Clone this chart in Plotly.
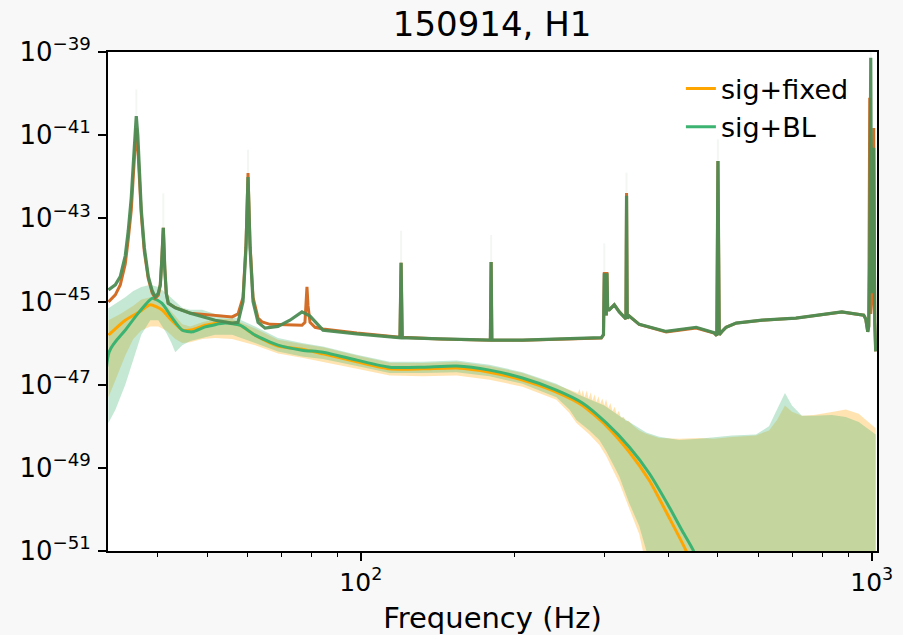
import numpy as np
import plotly.graph_objects as go

# ---------------- data (frequency in Hz, log10 of PSD) ----------------
psd_fixed = [(32.06,-45.01),(33.07,-44.84),(33.82,-44.6),(34.59,-44.1),(35.06,-43.5),(35.54,-42.8),
    (35.86,-42.0),(36.10,-41.3),(36.35,-40.83),(36.60,-41.3),(36.85,-42.0),(37.18,-42.9),(37.69,-43.8),
    (38.37,-44.45),(39.07,-44.8),(39.60,-44.92),(40.14,-44.85),(40.51,-44.6),(40.78,-44.0),(41.06,-43.23),
    (41.33,-44.2),(41.61,-44.8),(41.98,-45.04),(43.33,-45.15),(46.35,-45.28),(51.86,-45.33),(55.98,-45.37),
    (57.5,-45.3),(58.81,-44.9),(59.61,-43.6),(60.15,-41.91),(60.69,-43.6),(61.52,-44.9),(62.93,-45.4),
    (64.07,-45.49),(66.42,-45.55),(72.66,-45.57),(76.70,-45.57),(77.74,-45.5),(78.10,-45.1),(78.45,-44.65),
    (78.82,-45.1),(79.53,-45.5),(81.35,-45.62),(84.33,-45.66),(98.22,-45.76),(113.9,-45.84),(119.3,-45.86),
    (119.9,-44.07),(120.5,-45.86),(142.7,-45.9),(179.3,-45.93),(179.9,-44.05),(180.5,-45.93),(207.2,-45.93),
    (250.0,-45.9),(295.6,-45.88),(298.5,-45.8),(299.6,-44.29),(300.5,-45.3),(302.3,-45.3),(303.2,-44.29),
    (304.2,-45.2),(306.4,-45.2),(313.4,-45.08),(320.5,-45.25),(327.8,-45.37),(330.3,-45.42),(331.2,-42.39),
    (332.2,-45.4),(335.3,-45.35),(350.7,-45.55),(396.0,-45.73),(453.3,-45.64),(491.3,-45.76),(497.5,-45.82),
    (500.0,-41.62),(501.5,-44.1),(503.0,-45.8),(509.3,-45.72),(518.6,-45.62),(542.6,-45.52),(609.9,-45.45),
    (710.6,-45.40),(873.8,-45.25),(964.6,-45.33),(973.4,-45.42),(982.2,-45.73),(986.5,-45.6),(991.0,-40.1),
    (995.5,-45.3),(1000,-45.0),(1009,-40.83),(1013.7,-45.5),(1018,-46.2)]

psd_bl = [(32.06,-44.72),(33.07,-44.6),(33.82,-44.4),(34.59,-43.9),(35.06,-43.3),(35.54,-42.5),
    (35.86,-41.7),(36.10,-41.0),(36.35,-40.54),(36.60,-41.0),(36.85,-41.8),(37.18,-42.8),(37.69,-43.7),
    (38.37,-44.4),(39.07,-44.75),(39.60,-44.89),(40.14,-44.8),(40.51,-44.6),(40.78,-44.0),(41.06,-43.23),
    (41.33,-44.2),(41.61,-44.8),(41.98,-45.04),(43.33,-45.15),(46.35,-45.28),(51.86,-45.45),(55.98,-45.52),
    (57.5,-45.5),(58.81,-45.0),(59.61,-43.7),(60.15,-42.01),(60.69,-43.7),(61.52,-45.0),(62.93,-45.5),
    (64.94,-45.64),(68.84,-45.6),(72.66,-45.45),(76.70,-45.25),(79.53,-45.35),(84.33,-45.69),(98.22,-45.78),
    (113.9,-45.85),(119.3,-45.87),(119.9,-44.07),(120.5,-45.87),(142.7,-45.9),(179.3,-45.93),(179.9,-44.05),
    (180.5,-45.93),(207.2,-45.93),(250.0,-45.9),(295.6,-45.87),(298.5,-45.8),(299.6,-44.32),(300.5,-45.3),
    (302.3,-45.3),(303.2,-44.32),(304.2,-45.2),(306.4,-45.2),(313.4,-45.08),(320.5,-45.25),(327.8,-45.37),
    (330.3,-45.42),(331.2,-42.46),(332.2,-45.4),(335.3,-45.35),(350.7,-45.55),(396.0,-45.72),(453.3,-45.62),
    (491.3,-45.75),(497.5,-45.82),(500.0,-41.62),(501.5,-44.1),(503.0,-45.8),(509.3,-45.72),(518.6,-45.62),
    (542.6,-45.52),(609.9,-45.45),(710.6,-45.40),(873.8,-45.25),(964.6,-45.33),(973.4,-45.42),(982.2,-45.73),
    (986.5,-45.6),(991.0,-44.0),(995.5,-39.14),(1000,-44.8),(1009,-41.3),(1013.7,-45.5),(1018,-46.2)]

# faint upper tips of the PSD uncertainty above the spectral lines
tip_f = [36.35, 41.06, 60.15, 119.9, 179.9, 299.6, 331.2, 500.0, 995.5]
tip_lo = [-40.54, -43.23, -41.91, -44.07, -44.05, -44.29, -42.39, -41.62, -39.14]
tip_hi = [-39.9, -42.4, -41.35, -43.3, -43.4, -43.6, -41.9, -41.1, -39.0]

sig_fixed = [(32.06,-45.81),(34.59,-45.45),(36.85,-45.25),(38.72,-45.08),(40.78,-45.2),(42.6,-45.45),
    (44.72,-45.68),(46.8,-45.68),(49.58,-45.57),(54.25,-45.5),(58.0,-45.57),(62.09,-45.81),(68.84,-46.07),
    (76.7,-46.15),(84.33,-46.26),(98.22,-46.45),(113.9,-46.62),(132.2,-46.62),(154.0,-46.6),(178.6,-46.7),
    (207.2,-46.89),(241.4,-47.18),(271.5,-47.5),(302.3,-47.99),(335.3,-48.62),(366.8,-49.3),(401.4,-50.2),
    (433.3,-51.0),(445,-51.4)]

sig_bl = [(32.1,-60),(32.15,-46.22),(34.59,-45.69),(36.85,-45.25),(39.07,-44.92),(40.78,-45.04),
    (42.6,-45.37),(44.72,-45.69),(46.8,-45.73),(49.58,-45.61),(54.25,-45.52),(58.0,-45.57),(62.09,-45.81),
    (68.84,-46.05),(76.7,-46.17),(84.33,-46.22),(98.22,-46.41),(113.9,-46.58),(132.2,-46.58),(154.0,-46.55),
    (178.6,-46.65),(207.2,-46.84),(241.4,-47.13),(271.5,-47.44),(302.3,-47.92),(335.3,-48.5),(366.8,-49.13),
    (401.4,-49.94),(425,-50.5),(447.2,-50.98),(455,-51.3)]

fixed_hi = [(32.06,-45.45),(33.82,-45.3),(35.86,-45.1),(37.18,-44.95),(38.72,-44.9),(40.14,-44.95),
    (41.61,-45.1),(43.33,-45.35),(44.72,-45.55),(46.35,-45.6),(48.92,-45.5),(51.86,-45.42),(55.98,-45.42),
    (62.09,-45.65),(68.84,-45.92),(76.7,-46.02),(84.33,-46.1),(98.22,-46.3),(113.9,-46.47),(132.2,-46.48),
    (154.0,-46.45),(178.6,-46.55),(207.2,-46.72),(241.4,-47.0),(264.2,-47.2),(266,-47.2),(268,-47.1),
    (270,-47.26),(272,-47.13),(274,-47.3),(277,-47.14),(279,-47.34),(282,-47.18),(284,-47.38),(287,-47.23),
    (289,-47.42),(292,-47.28),(294,-47.46),(297,-47.33),(299.6,-47.5),(302,-47.35),(305,-47.56),(308,-47.44),
    (311,-47.64),(314,-47.53),(317,-47.72),(320,-47.63),(323,-47.8),(327,-47.77),(330,-47.88),(334,-47.87),
    (340,-47.97),(350.7,-48.1),(361.9,-48.18),(383.7,-48.28),(419.8,-48.3),(459.4,-48.28),(491.3,-48.3),
    (532.9,-48.26),(593.5,-48.22),(629.4,-48.1),(652.5,-47.85),(676.3,-47.5),(698.0,-47.65),(730.0,-47.75),
    (770.4,-47.73),(835.5,-47.66),(889.7,-47.6),(943.2,-47.7),(1018,-48.05)]

fixed_lo = [(32.06,-47.3),(33.07,-46.9),(34.59,-46.3),(35.86,-45.9),(37.18,-45.7),(38.72,-45.6),
    (40.14,-45.6),(41.61,-45.7),(43.33,-45.9),(44.72,-46.0),(46.35,-45.98),(48.92,-45.9),(51.86,-45.88),
    (55.98,-45.9),(62.09,-46.05),(68.84,-46.25),(76.7,-46.35),(84.33,-46.45),(98.22,-46.62),(113.9,-46.78),
    (132.2,-46.8),(154.0,-46.78),(178.6,-46.88),(207.2,-47.05),(241.4,-47.36),(256,-47.68),(264.2,-47.92),
    (280.2,-48.2),(293.0,-48.45),(302.3,-48.72),(310.6,-49.02),(320.5,-49.36),(335.3,-50.0),(350.7,-50.6),
    (358.0,-51.1),(366,-52),(376,-60),(1018,-60)]

bl_hi = [(32.06,-45.16),(33.07,-45.05),(34.59,-44.9),(35.86,-44.75),(37.18,-44.65),(38.72,-44.6),
    (40.14,-44.65),(41.61,-44.8),(43.33,-45.0),(44.72,-45.15),(46.35,-45.2),(48.92,-45.2),(51.86,-45.3),
    (55.98,-45.35),(62.09,-45.6),(68.84,-45.88),(76.7,-46.0),(84.33,-46.08),(98.22,-46.28),(113.9,-46.45),
    (132.2,-46.45),(154.0,-46.42),(178.6,-46.52),(207.2,-46.7),(241.4,-46.98),(264.2,-47.22),(280.2,-47.35),
    (299.6,-47.5),(320.5,-47.75),(339.9,-47.95),(361.9,-48.15),(383.7,-48.25),(419.8,-48.33),(459.4,-48.3),
    (532.9,-48.22),(593.5,-48.2),(629.4,-48.0),(652.5,-47.6),(676.3,-47.2),(698.0,-47.5),(730.0,-47.75),
    (770.4,-47.75),(835.5,-47.73),(889.7,-47.78),(943.2,-47.9),(1018,-48.2)]

bl_lo = [(32.06,-47.92),(33.07,-47.61),(34.59,-47.0),(35.86,-46.4),(37.18,-45.8),(38.72,-45.45),
    (40.14,-45.45),(41.61,-45.75),(42.6,-46.0),(43.33,-46.22),(44.72,-46.05),(46.35,-45.95),(48.92,-45.88),
    (51.86,-45.8),(55.98,-45.8),(62.09,-46.0),(68.84,-46.2),(76.7,-46.32),(84.33,-46.38),(98.22,-46.55),
    (113.9,-46.72),(132.2,-46.72),(154.0,-46.7),(178.6,-46.8),(207.2,-46.98),(241.4,-47.3),(256,-47.6),
    (264.2,-47.85),(280.2,-48.1),(293.0,-48.33),(302.3,-48.6),(310.6,-48.88),(320.5,-49.2),(335.3,-49.85),
    (350.7,-50.4),(361.9,-50.98),(370,-52),(380,-60),(1018,-60)]

title_text = "150914, H1"
xlabel = "Frequency (Hz)"
legend_names = ["sig+fixed", "sig+BL"]
x_tickvals = [100, 1000]
x_ticktext = ["10<sup>2</sup>", "10<sup>3</sup>"]
y_tick_exps = [-39, -41, -43, -45, -47, -49, -51]
minor_vals = [40, 50, 60, 70, 80, 90, 200, 300, 400, 500, 600, 700, 800, 900]


def split(pairs):
    f = [p[0] for p in pairs]
    v = [10.0 ** p[1] for p in pairs]
    return f, v


def band(hi, lo):
    fh, vh = split(hi)
    fl, vl = split(lo)
    return fh + fl[::-1], vh + vl[::-1]


FONT = "DejaVu Sans"
C_ORANGE = "#ffa500"
C_GREEN = "#3cb371"
C_PSD_OR = "rgb(211,110,40)"
C_PSD_GR = "rgb(78,141,85)"

fig = go.Figure()

bx, by = band(fixed_hi, fixed_lo)
fig.add_trace(go.Scatter(x=bx, y=by, fill="toself", fillcolor="rgba(255,165,0,0.3)",
                         line=dict(width=0), mode="lines", showlegend=False, hoverinfo="skip"))
bx, by = band(bl_hi, bl_lo)
fig.add_trace(go.Scatter(x=bx, y=by, fill="toself", fillcolor="rgba(60,179,113,0.3)",
                         line=dict(width=0), mode="lines", showlegend=False, hoverinfo="skip"))

# faint tips
tx, ty = [], []
for f, lo, hi in zip(tip_f, tip_lo, tip_hi):
    tx += [f, f, None]
    ty += [10.0 ** lo, 10.0 ** hi, None]
fig.add_trace(go.Scatter(x=tx, y=ty, mode="lines", line=dict(color="rgba(78,141,85,0.07)", width=2),
                         showlegend=False, hoverinfo="skip"))

f, v = split(sig_fixed)
fig.add_trace(go.Scatter(x=f, y=v, mode="lines", name=legend_names[0],
                         line=dict(color=C_ORANGE, width=3, shape="spline", smoothing=0.6)))
f, v = split(sig_bl)
fig.add_trace(go.Scatter(x=f, y=v, mode="lines", name=legend_names[1],
                         line=dict(color=C_GREEN, width=3, shape="spline", smoothing=0.6)))

f, v = split(psd_fixed)
fig.add_trace(go.Scatter(x=f, y=v, mode="lines", showlegend=False,
                         line=dict(color=C_PSD_OR, width=3)))
f, v = split(psd_bl)
fig.add_trace(go.Scatter(x=f, y=v, mode="lines", showlegend=False,
                         line=dict(color=C_PSD_GR, width=3.2), opacity=0.95))

fig.update_layout(
    width=903, height=635,
    margin=dict(l=108, r=26, t=52, b=84, autoexpand=False),
    paper_bgcolor="#f8f8f8", plot_bgcolor="white",
    font=dict(family=FONT, color="black", size=25),
    title=dict(text=title_text, x=0.545, xanchor="center", y=0.962, yanchor="middle",
               font=dict(size=34, family=FONT, color="black")),
    showlegend=True,
    legend=dict(x=0.745, xanchor="left", y=0.975, yanchor="top", bgcolor="rgba(0,0,0,0)",
                font=dict(size=27, family=FONT), tracegroupgap=0),
)

fig.update_xaxes(type="log", range=[np.log10(32), np.log10(1024)], automargin=False,
                 showline=True, linecolor="black", linewidth=1.8, mirror=True,
                 ticks="outside", ticklen=8, tickwidth=1.5, tickcolor="black",
                 tickmode="array", tickvals=x_tickvals, ticktext=x_ticktext,
                 ticklabeloverflow="allow", showgrid=False, zeroline=False,
                 tickfont=dict(size=25, family=FONT),
                 minor=dict(tickmode="array", tickvals=minor_vals, ticks="outside", ticklen=4,
                            tickwidth=1.2, tickcolor="black", showgrid=False),
                 title=dict(text=xlabel, font=dict(size=29, family=FONT), standoff=14))
fig.update_yaxes(type="log", range=[-51, -39], automargin=False,
                 showline=True, linecolor="black", linewidth=1.8, mirror=True,
                 ticks="outside", ticklen=8, tickwidth=1.5, tickcolor="black",
                 tickmode="array", tickvals=[10.0 ** e for e in y_tick_exps],
                 ticktext=["10<sup>\u2212%d</sup>" % (-e) for e in y_tick_exps],
                 showgrid=False, zeroline=False,
                 tickfont=dict(size=26, family=FONT), ticklabelstandoff=2)

fig.write_html("out.html")
